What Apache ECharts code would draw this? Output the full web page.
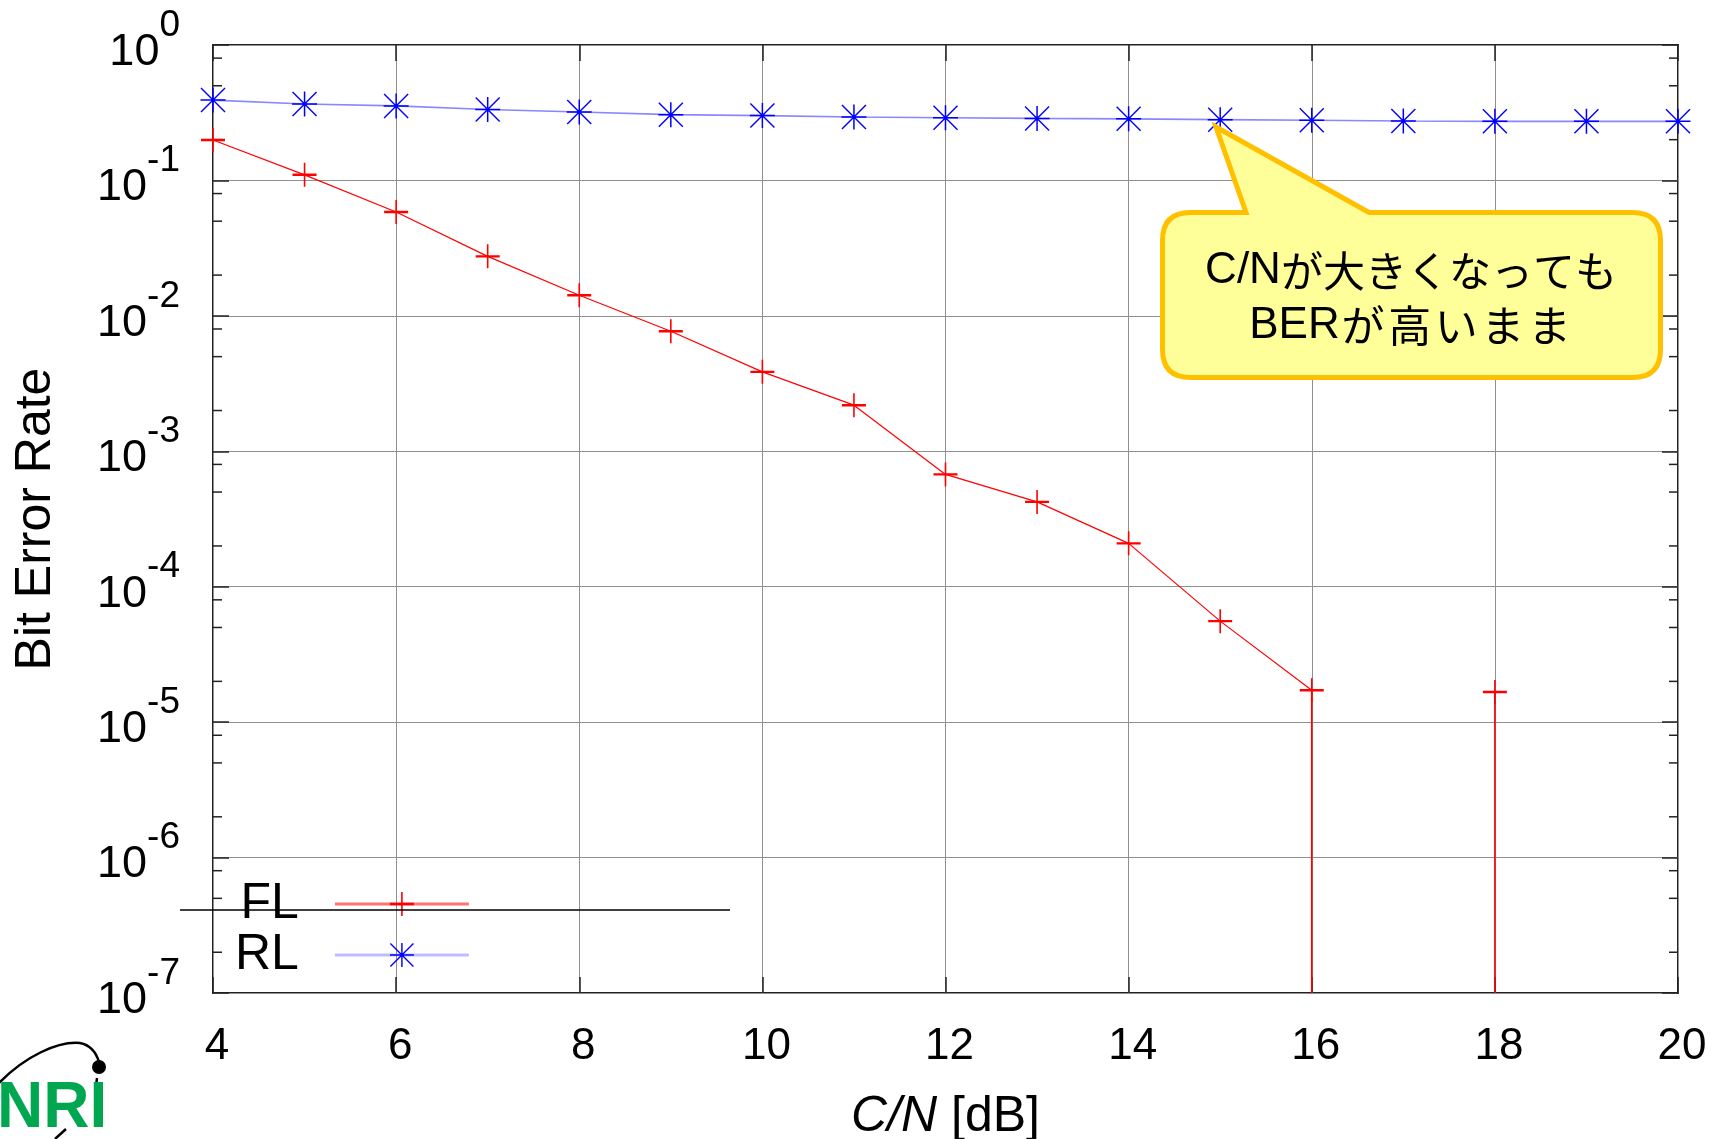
<!DOCTYPE html>
<html>
<head>
<meta charset="utf-8">
<script src="https://cdn.jsdelivr.net/npm/echarts@6/dist/echarts.min.js"></script>
<style>
html, body { margin: 0; padding: 0; background: #ffffff; }
#chart { width: 1711px; height: 1139px; }
</style>
</head>
<body>
<div id="chart"></div>
<script>
// C/N sweep [dB]
const cnDb = [4, 5, 6, 7, 8, 9, 10, 11, 12, 13, 14, 15, 16, 17, 18, 19, 20];
// Forward link BER (0 = no errors counted)
const berFL = [0.199, 0.110, 0.0584, 0.0275, 0.0142, 0.0077, 0.00386, 0.00219, 0.000675, 0.000423, 0.000209, 0.0000557, 0.0000172, 0, 0.0000167, 0, 0];
// Reverse link BER
const berRL = [0.392, 0.367, 0.355, 0.334, 0.320, 0.306, 0.301, 0.294, 0.290, 0.287, 0.285, 0.281, 0.278, 0.275, 0.273, 0.273, 0.273];
// axis ticks
const xTicks = [4, 6, 8, 10, 12, 14, 16, 18, 20];
const yExponents = [0, -1, -2, -3, -4, -5, -6, -7];
const minorMultipliers = [2, 5, 8];

const FONT = '"Liberation Sans", Arial, "Noto Sans CJK JP", sans-serif';
const JP_FONT = '"Noto Sans CJK JP", sans-serif';
const xMin = xTicks[0], xMax = xTicks[xTicks.length - 1], xStep = xTicks[1] - xTicks[0];
const yMin = Math.pow(10, Math.min(...yExponents));
const yMax = Math.pow(10, Math.max(...yExponents));

const flData = cnDb.map((x, i) => [x, berFL[i] > 0 ? berFL[i] : null]);
const rlData = cnDb.map((x, i) => [x, berRL[i]]);

// vertical drops where the next point has zero errors
const dropData = [];
for (let i = 0; i < cnDb.length - 1; i++) {
  if (berFL[i] > 0 && berFL[i + 1] === 0) {
    dropData.push([cnDb[i], berFL[i]], [cnDb[i], yMin], [cnDb[i], null]);
  }
}

// minor ticks on the log axis
const minorTickData = [];
yExponents.forEach(e => {
  if (e >= 0) return;
  minorMultipliers.forEach(m => minorTickData.push([xMin, m * Math.pow(10, e)]));
});

const plusSymbol = 'path://M-0.8,-12L0.8,-12L0.8,12L-0.8,12Z M-12,-1.2L12,-1.2L12,1.2L-12,1.2Z';
const starSymbol = 'path://M-0.75,-12.5L0.75,-12.5L0.75,12.5L-0.75,12.5Z M-12.5,-0.75L12.5,-0.75L12.5,0.75L-12.5,0.75Z ' +
  'M-11.5,-12.5L12.5,11.5L11.5,12.5L-12.5,-11.5Z M12.5,-11.5L-11.5,12.5L-12.5,11.5L11.5,-12.5Z';

// speech-bubble shape: rounded box with a pointer on its top edge
echarts.graphic.registerShape('bubble', echarts.graphic.extendShape({
  shape: { x: 0, y: 0, width: 0, height: 0, r: 0, baseL: 0, baseR: 0, tipX: 0, tipY: 0 },
  buildPath: function (ctx, s) {
    const x0 = s.x, y0 = s.y, x1 = s.x + s.width, y1 = s.y + s.height, r = s.r;
    ctx.moveTo(x0 + r, y0);
    ctx.lineTo(s.baseL, y0);
    ctx.lineTo(s.tipX, s.tipY);
    ctx.lineTo(s.baseR, y0);
    ctx.lineTo(x1 - r, y0);
    ctx.quadraticCurveTo(x1, y0, x1, y0 + r);
    ctx.lineTo(x1, y1 - r);
    ctx.quadraticCurveTo(x1, y1, x1 - r, y1);
    ctx.lineTo(x0 + r, y1);
    ctx.quadraticCurveTo(x0, y1, x0, y1 - r);
    ctx.lineTo(x0, y0 + r);
    ctx.quadraticCurveTo(x0, y0, x0 + r, y0);
    ctx.closePath();
  }
}));

// callout text: Latin and kana set as separate runs
const bubbleRich = {
  l: { fontSize: 44, fontFamily: '"Liberation Sans", Arial, sans-serif', color: '#000', lineHeight: 50 },
  k1: { fontSize: 42, fontFamily: JP_FONT, color: '#000', lineHeight: 50 },
  k2: { fontSize: 43, fontFamily: JP_FONT, color: '#000', lineHeight: 50, padding: [0, 1.8, 0, 1.8] }
};
const bubbleLine1 = '{l|C/N}{k1|が大きくなっても}';
const bubbleLine2 = '{l|BER}' + Array.from('が高いまま').map(c => '{k2|' + c + '}').join('');

const tickStyle = { color: '#222', width: 1.5 };
const gridLine = { show: true, lineStyle: { color: '#909090', width: 1 } };

const chart = echarts.init(document.getElementById('chart'), null, { renderer: 'canvas' });

chart.setOption({
  animation: false,
  backgroundColor: '#ffffff',
  textStyle: { fontFamily: FONT },
  grid: {
    left: 213, right: 33, top: 45, bottom: 146,
    show: true, borderColor: '#222', borderWidth: 2, backgroundColor: 'transparent',
    containLabel: false, outerBoundsMode: 'none'
  },
  legend: {
    data: ['FL', 'RL'],
    orient: 'vertical',
    align: 'right',
    left: 230,
    top: 874,
    itemWidth: 134,
    itemHeight: 30,
    itemGap: 1,
    lineStyle: { width: 3, opacity: 0.55 },
    textStyle: { fontSize: 50, lineHeight: 50, color: '#000', fontFamily: FONT, padding: [0, 31, 0, 0] }
  },
  xAxis: [{
    type: 'value', min: xMin, max: xMax, interval: xStep, position: 'bottom',
    axisLine: { show: false },
    axisTick: { inside: true, length: 16, lineStyle: tickStyle },
    splitLine: gridLine,
    axisLabel: {
      margin: 32, fontSize: 44, color: '#000', fontFamily: FONT, padding: [0, 0, 0, 8],
      formatter: v => String(v)
    },
    name: '{i|C/N} [dB]',
    nameLocation: 'middle',
    nameGap: 99,
    nameTextStyle: {
      fontSize: 50, color: '#000', fontFamily: FONT,
      rich: { i: { fontSize: 50, fontStyle: 'italic', color: '#000', fontFamily: FONT } }
    }
  }, {
    type: 'value', min: xMin, max: xMax, interval: xStep, position: 'top',
    axisLine: { show: false },
    axisTick: { inside: true, length: 16, lineStyle: tickStyle },
    splitLine: { show: false },
    axisLabel: { show: false }
  }],
  yAxis: [{
    type: 'log', logBase: 10, min: yMin, max: yMax, position: 'left',
    axisLine: { show: false },
    axisTick: { inside: true, length: 16, lineStyle: tickStyle },
    splitLine: gridLine,
    axisLabel: {
      margin: 33, color: '#000', padding: [15, 0, 0, 0],
      formatter: v => '{b|10}{s|' + Math.round(Math.log10(v)) + '}',
      rich: {
        b: { fontSize: 45, lineHeight: 45, color: '#000', fontFamily: FONT, verticalAlign: 'bottom' },
        s: { fontSize: 37, lineHeight: 37, color: '#000', fontFamily: FONT, verticalAlign: 'bottom', padding: [0, 0, 31, 0] }
      }
    },
    name: 'Bit Error Rate',
    nameLocation: 'middle',
    nameGap: 152,
    nameTextStyle: { fontSize: 50, color: '#000', fontFamily: FONT }
  }, {
    type: 'log', logBase: 10, min: yMin, max: yMax, position: 'right',
    axisLine: { show: false },
    axisTick: { inside: true, length: 16, lineStyle: tickStyle },
    splitLine: { show: false },
    axisLabel: { show: false }
  }],
  series: [{
    name: 'minor',
    type: 'custom',
    silent: true,
    clip: false,
    xAxisIndex: 0, yAxisIndex: 0,
    encode: { x: 0, y: 1 },
    data: minorTickData,
    renderItem: (params, api) => {
      const y = api.coord([xMin, api.value(1)])[1];
      const cs = params.coordSys;
      const st = { stroke: '#222', lineWidth: 1.5 };
      return {
        type: 'group',
        children: [
          { type: 'line', shape: { x1: cs.x, y1: y, x2: cs.x + 9, y2: y }, style: st },
          { type: 'line', shape: { x1: cs.x + cs.width - 9, y1: y, x2: cs.x + cs.width, y2: y }, style: st }
        ]
      };
    },
    z: 3
  }, {
    name: 'RL',
    type: 'line',
    data: rlData,
    symbol: starSymbol,
    symbolSize: 25,
    lineStyle: { color: '#8888ff', width: 1.6 },
    itemStyle: { color: '#0000ff' },
    clip: false,
    z: 4
  }, {
    name: 'FL',
    type: 'line',
    data: flData,
    connectNulls: false,
    symbol: plusSymbol,
    symbolSize: 24,
    lineStyle: { color: '#ff0000', width: 1.2 },
    itemStyle: { color: '#ff0000' },
    clip: false,
    z: 5
  }, {
    name: 'FL drop',
    type: 'line',
    data: dropData,
    connectNulls: false,
    symbol: 'none',
    silent: true,
    lineStyle: { color: '#ff0000', width: 1.6 },
    z: 5
  }],
  graphic: [
    // stray rule across the key
    { type: 'line', shape: { x1: 180, y1: 910, x2: 730, y2: 910 }, style: { stroke: '#000', lineWidth: 1.5 }, z: 10 },
    // speech bubble
    {
      type: 'bubble',
      z: 20,
      shape: { x: 1162.5, y: 212.5, width: 498, height: 165, r: 28, baseL: 1246, baseR: 1369, tipX: 1216, tipY: 127 },
      style: { fill: '#ffff99', stroke: '#ffc000', lineWidth: 5, lineJoin: 'miter' }
    },
    {
      type: 'text', z: 21, x: 1411, y: 271,
      style: { text: bubbleLine1, rich: bubbleRich, fill: '#000', align: 'center', verticalAlign: 'middle' }
    },
    {
      type: 'text', z: 21, x: 1411, y: 326,
      style: { text: bubbleLine2, rich: bubbleRich, fill: '#000', align: 'center', verticalAlign: 'middle' }
    },
    // NRI logo
    {
      type: 'bezierCurve', z: 10,
      shape: { x1: -2, y1: 1084, cpx1: 25, cpy1: 1056, cpx2: 58, cpy2: 1041, x2: 80, y2: 1043 },
      style: { fill: null, stroke: '#000', lineWidth: 2.5 }
    },
    {
      type: 'bezierCurve', z: 10,
      shape: { x1: 80, y1: 1043, cpx1: 90, cpy1: 1045, cpx2: 96, cpy2: 1052, x2: 99, y2: 1062 },
      style: { fill: null, stroke: '#000', lineWidth: 2.5 }
    },
    { type: 'line', z: 10, shape: { x1: 97, y1: 1078, x2: 96, y2: 1086 }, style: { stroke: '#000', lineWidth: 2.5 } },
    { type: 'line', z: 10, shape: { x1: 55, y1: 1139, x2: 66, y2: 1129 }, style: { stroke: '#000', lineWidth: 2.5 } },
    { type: 'circle', z: 11, shape: { cx: 99, cy: 1067, r: 7 }, style: { fill: '#000' } },
    {
      type: 'text', z: 11, x: -3, y: 1109,
      style: { text: 'NRI', font: 'bold 64px "Liberation Sans", Arial, sans-serif', fill: '#00a650', align: 'left', verticalAlign: 'middle' }
    }
  ]
});
</script>
</body>
</html>
